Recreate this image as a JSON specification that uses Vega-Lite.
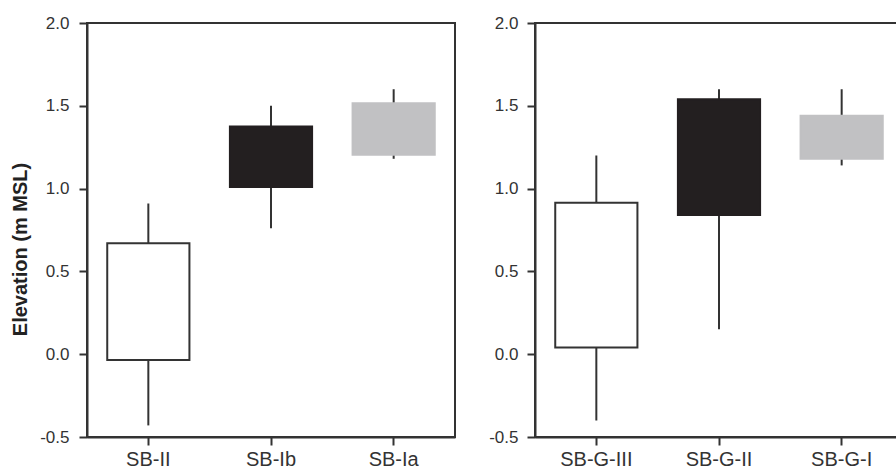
{
  "$schema": "https://vega.github.io/schema/vega-lite/v6.json",
  "padding": {"left": 9, "top": 13, "right": 0, "bottom": 0},
  "background": "white",
  "data": {
    "values": [
      {"panel": "A", "site": "SB-II", "zone": "low", "whiskerLow": -0.43, "boxLow": -0.035, "boxHigh": 0.67, "whiskerHigh": 0.91},
      {"panel": "A", "site": "SB-Ib", "zone": "mid", "whiskerLow": 0.76, "boxLow": 1.01, "boxHigh": 1.375, "whiskerHigh": 1.5},
      {"panel": "A", "site": "SB-Ia", "zone": "high", "whiskerLow": 1.18, "boxLow": 1.205, "boxHigh": 1.515, "whiskerHigh": 1.6},
      {"panel": "B", "site": "SB-G-III", "zone": "low", "whiskerLow": -0.4, "boxLow": 0.04, "boxHigh": 0.915, "whiskerHigh": 1.2},
      {"panel": "B", "site": "SB-G-II", "zone": "mid", "whiskerLow": 0.15, "boxLow": 0.84, "boxHigh": 1.54, "whiskerHigh": 1.6},
      {"panel": "B", "site": "SB-G-I", "zone": "high", "whiskerLow": 1.14, "boxLow": 1.18, "boxHigh": 1.44, "whiskerHigh": 1.6}
    ]
  },
  "spacing": 31,
  "config": {
    "font": "Liberation Sans",
    "view": {"stroke": "#333", "strokeWidth": 2},
    "axis": {
      "grid": false,
      "domainColor": "#333",
      "domainWidth": 2,
      "tickColor": "#333",
      "tickWidth": 2,
      "tickSize": 8,
      "labelColor": "#333",
      "labelFont": "Liberation Sans"
    }
  },
  "hconcat": [
    {
      "width": 368,
      "height": 414,
      "transform": [{"filter": "datum.panel == 'A'"}],
      "encoding": {
        "x": {
          "field": "site", "type": "nominal", "sort": ["SB-II", "SB-Ib", "SB-Ia"],
          "scale": {"paddingInner": 0, "paddingOuter": 0},
          "axis": {"title": null, "labelAngle": 0, "labelFontSize": 20, "labelPadding": 4}
        }
      },
      "layer": [
        {
          "mark": {"type": "rule", "color": "#333", "strokeWidth": 2},
          "encoding": {
            "y": {"field": "whiskerLow", "type": "quantitative",
              "scale": {"domain": [-0.5, 2.0], "nice": false, "zero": false},
              "axis": {"title": "Elevation (m MSL)", "titleFontSize": 20, "titleFontWeight": "bold", "titleColor": "#222", "titlePadding": 9, "titleY": 226,
                "values": [-0.5, 0, 0.5, 1, 1.5, 2], "labelFontSize": 17, "labelPadding": 10,
                "labelExpr": "replace(format(datum.value, '.1f'), '\u2212', '-')"}},
            "y2": {"field": "whiskerHigh"}
          }
        },
        {
          "mark": {"type": "bar", "width": {"band": 0.67}, "strokeWidth": 2},
          "encoding": {
            "y": {"field": "boxLow", "type": "quantitative"},
            "y2": {"field": "boxHigh"},
            "fill": {"field": "zone", "type": "nominal", "scale": {"domain": ["low", "mid", "high"], "range": ["#ffffff", "#231f20", "#c1c1c3"]}, "legend": null},
            "stroke": {"field": "zone", "type": "nominal", "scale": {"domain": ["low", "mid", "high"], "range": ["#333333", "#231f20", "#c1c1c3"]}, "legend": null}
          }
        }
      ]
    },
    {
      "width": 368,
      "height": 414,
      "transform": [{"filter": "datum.panel == 'B'"}],
      "encoding": {
        "x": {
          "field": "site", "type": "nominal", "sort": ["SB-G-III", "SB-G-II", "SB-G-I"],
          "scale": {"paddingInner": 0, "paddingOuter": 0},
          "axis": {"title": null, "labelAngle": 0, "labelFontSize": 20, "labelPadding": 4}
        }
      },
      "layer": [
        {
          "mark": {"type": "rule", "color": "#333", "strokeWidth": 2},
          "encoding": {
            "y": {"field": "whiskerLow", "type": "quantitative",
              "scale": {"domain": [-0.5, 2.0], "nice": false, "zero": false},
              "axis": {"title": null,
                "values": [-0.5, 0, 0.5, 1, 1.5, 2], "labelFontSize": 17, "labelPadding": 9,
                "labelExpr": "replace(format(datum.value, '.1f'), '\u2212', '-')"}},
            "y2": {"field": "whiskerHigh"}
          }
        },
        {
          "mark": {"type": "bar", "width": {"band": 0.67}, "strokeWidth": 2},
          "encoding": {
            "y": {"field": "boxLow", "type": "quantitative"},
            "y2": {"field": "boxHigh"},
            "fill": {"field": "zone", "type": "nominal", "scale": {"domain": ["low", "mid", "high"], "range": ["#ffffff", "#231f20", "#c1c1c3"]}, "legend": null},
            "stroke": {"field": "zone", "type": "nominal", "scale": {"domain": ["low", "mid", "high"], "range": ["#333333", "#231f20", "#c1c1c3"]}, "legend": null}
          }
        }
      ]
    }
  ]
}
